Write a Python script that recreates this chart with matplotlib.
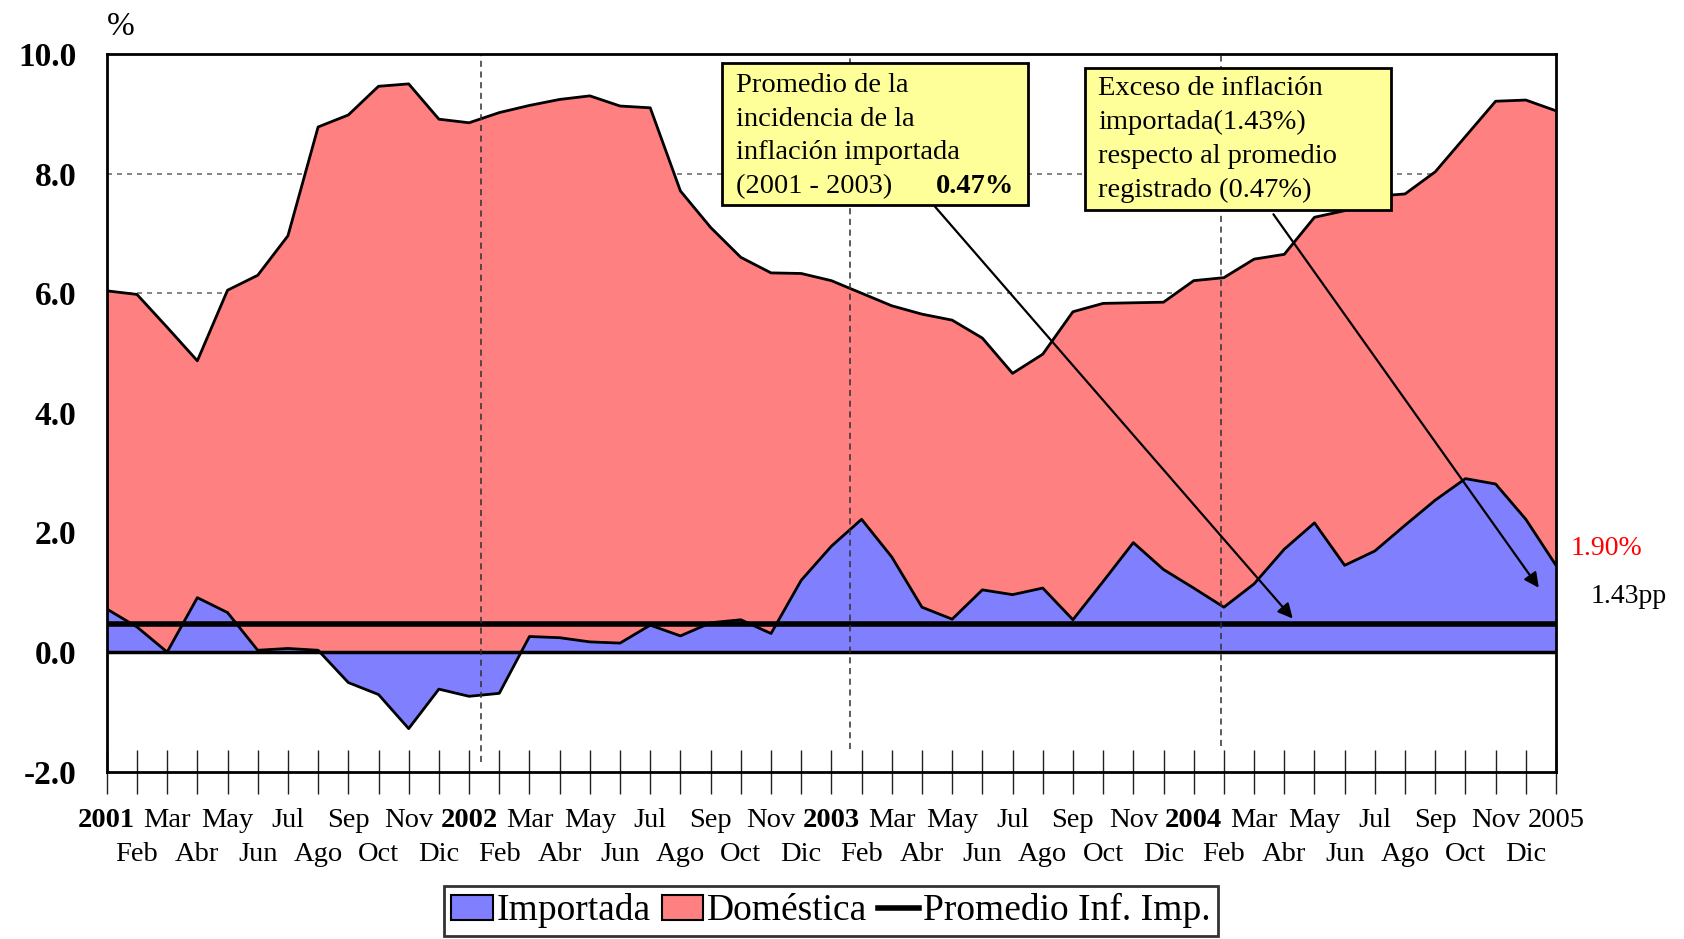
import numpy as np
import matplotlib
matplotlib.use("Agg")
import matplotlib.pyplot as plt
from matplotlib.patches import Patch, Rectangle
from matplotlib.lines import Line2D

plt.rcParams['font.family'] = ['Liberation Serif', 'DejaVu Serif']

# ---------------- data ----------------
meses = ['2001', 'Feb', 'Mar', 'Abr', 'May', 'Jun', 'Jul', 'Ago', 'Sep', 'Oct', 'Nov', 'Dic',
         '2002', 'Feb', 'Mar', 'Abr', 'May', 'Jun', 'Jul', 'Ago', 'Sep', 'Oct', 'Nov', 'Dic',
         '2003', 'Feb', 'Mar', 'Abr', 'May', 'Jun', 'Jul', 'Ago', 'Sep', 'Oct', 'Nov', 'Dic',
         '2004', 'Feb', 'Mar', 'Abr', 'May', 'Jun', 'Jul', 'Ago', 'Sep', 'Oct', 'Nov', 'Dic',
         '2005']
anios_negrita = ['2001', '2002', '2003', '2004']

inflacion_total = [6.04, 5.98, 5.43, 4.87, 6.05, 6.30, 6.96, 8.78, 8.98, 9.46,
                   9.50, 8.91, 8.85, 9.02, 9.14, 9.24, 9.30, 9.13, 9.10, 7.71,
                   7.10, 6.60, 6.34, 6.33, 6.21, 6.00, 5.79, 5.65, 5.55, 5.25,
                   4.66, 4.98, 5.69, 5.83, 5.84, 5.85, 6.21, 6.26, 6.57, 6.65,
                   7.27, 7.38, 7.62, 7.66, 8.03, 8.62, 9.21, 9.23, 9.05]

importada = [0.72, 0.42, 0.00, 0.91, 0.66, 0.03, 0.06, 0.03, -0.51, -0.71,
             -1.28, -0.62, -0.74, -0.69, 0.26, 0.24, 0.17, 0.15, 0.45, 0.27,
             0.49, 0.54, 0.31, 1.20, 1.77, 2.22, 1.59, 0.75, 0.55, 1.04,
             0.96, 1.07, 0.54, 1.18, 1.83, 1.38, 1.07, 0.75, 1.14, 1.72,
             2.16, 1.45, 1.69, 2.12, 2.54, 2.90, 2.81, 2.22, 1.45]

promedio_importada = 0.47

y_ticks = [-2, 0, 2, 4, 6, 8, 10]
grid_y = [2, 4, 6, 8]
lineas_anio = [12.4, 24.6, 36.9]
lineas_anio_base = [-1.83, -1.62, -1.57]

# ---------------- figure ----------------
AZUL = '#8080FF'
ROJO = '#FF8080'
AMARILLO = '#FFFF99'

fig = plt.figure(figsize=(16.84, 9.39), dpi=100)
ax = fig.add_axes([0.0634, 0.1782, 0.8606, 0.7643])

x = np.arange(len(meses))

for g in grid_y:
    ax.axhline(g, color='#707070', lw=1.2, ls=(0, (3, 3)), zorder=1)

ax.fill_between(x, 0, inflacion_total, color=ROJO, lw=0, zorder=2)
ax.fill_between(x, 0, importada, color=AZUL, lw=0, zorder=3)
ax.plot(x, inflacion_total, color='black', lw=2, zorder=4)
ax.plot(x, importada, color='black', lw=2, zorder=4)
ax.axhline(0, color='black', lw=2.5, zorder=5)
ax.axhline(promedio_importada, color='black', lw=4, zorder=6)

ax.vlines(lineas_anio, lineas_anio_base, 10, colors='#303030', lw=1.1,
          linestyles=(0, (4, 3)), zorder=7)

ax.set_xlim(0, len(meses) - 1)
ax.set_ylim(-2, 10)

# y axis
ax.set_yticks(y_ticks)
ax.set_yticklabels([f'{v:.1f}' for v in y_ticks], fontsize=24, fontweight='bold')
ax.tick_params(axis='y', length=0, pad=22)

# x axis: two alternating rows (major = upper row, minor = lower row)
pares = x[::2]
impares = x[1::2]
ax.set_xticks(pares)
ax.set_xticklabels([meses[i] for i in pares], fontsize=20.5)
ax.set_xticks(impares, minor=True)
ax.set_xticklabels([meses[i] for i in impares], minor=True, fontsize=20.5)
for lbl in ax.get_xticklabels():
    if lbl.get_text() in anios_negrita:
        lbl.set_fontweight('bold')
ax.tick_params(axis='x', which='both', direction='inout', length=31, width=1.0,
               color='#202020')
ax.tick_params(axis='x', which='major', pad=11)
ax.tick_params(axis='x', which='minor', pad=35)

for s in ax.spines.values():
    s.set_linewidth(2)
    s.set_color('black')
    s.set_zorder(10)

# % label
ax.text(0, 10.32, '%', fontsize=24, ha='left', va='baseline', clip_on=False)

# annotation boxes
caja1 = Rectangle((20.37, 7.48), 10.13, 2.37, facecolor=AMARILLO,
                  edgecolor='black', lw=2, zorder=9)
caja2 = Rectangle((32.41, 7.39), 10.13, 2.37, facecolor=AMARILLO,
                  edgecolor='black', lw=2, zorder=9)
ax.add_patch(caja1)
ax.add_patch(caja2)

lineas1 = ['Promedio de la', 'incidencia de la', 'inflación importada', '(2001 - 2003)']
base1 = [9.37, 8.80, 8.24, 7.67]
for t, yb in zip(lineas1, base1):
    ax.text(20.85, yb, t, fontsize=20.5, ha='left', va='baseline', zorder=10)
ax.text(30.05, base1[-1], '0.47%', fontsize=20.5, fontweight='bold',
        ha='right', va='baseline', zorder=10)

lineas2 = ['Exceso de inflación', 'importada(1.43%)', 'respecto al promedio',
           'registrado (0.47%)']
base2 = [9.31, 8.75, 8.18, 7.61]
for t, yb in zip(lineas2, base2):
    ax.text(32.83, yb, t, fontsize=20.5, ha='left', va='baseline', zorder=10)

# arrows
ax.annotate('', xy=(39.28, 0.56), xytext=(27.41, 7.46),
            arrowprops=dict(arrowstyle='-|>', color='black', lw=1.6,
                            mutation_scale=22, shrinkA=0, shrinkB=0), zorder=8)
ax.annotate('', xy=(47.43, 1.075), xytext=(38.64, 7.32),
            arrowprops=dict(arrowstyle='-|>', color='black', lw=1.6,
                            mutation_scale=22, shrinkA=0, shrinkB=0), zorder=8)

# right side labels
ax.text(48.47, 1.62, '1.90%', color='#FF0000', fontsize=20, ha='left',
        va='baseline', clip_on=False)
ax.text(49.13, 0.82, '1.43pp', color='black', fontsize=20, ha='left',
        va='baseline', clip_on=False)

# legend
handles = [Patch(facecolor=AZUL, edgecolor='black', lw=1.5),
           Patch(facecolor=ROJO, edgecolor='black', lw=1.5),
           Line2D([], [], color='black', lw=4)]
labels = ['Importada', 'Doméstica', 'Promedio Inf. Imp.']
leg = fig.legend(handles, labels, loc='center', bbox_to_anchor=(0.4935, 0.030),
                 ncol=3, frameon=True, fancybox=False, edgecolor='black',
                 fontsize=27, handlelength=1.1, handleheight=0.65,
                 handletextpad=0.1, columnspacing=0.3, borderpad=0.2,
                 borderaxespad=0)
leg.get_frame().set_linewidth(2)

fig.savefig('out.png', dpi=100)
